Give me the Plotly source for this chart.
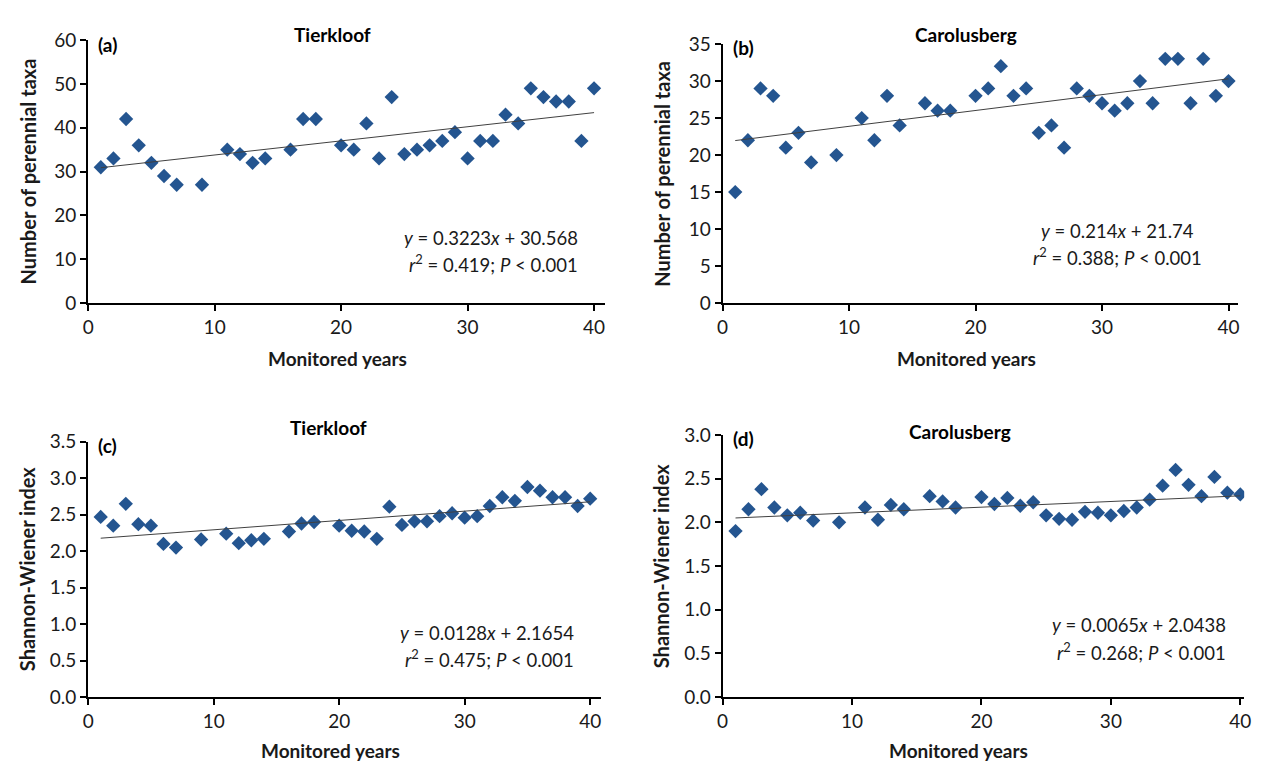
import plotly.graph_objects as go

years = [1, 2, 3, 4, 5, 6, 7, 9, 11, 12, 13, 14, 16, 17, 18, 20, 21, 22, 23, 24,
         25, 26, 27, 28, 29, 30, 31, 32, 33, 34, 35, 36, 37, 38, 39, 40]

taxa_tierkloof = [31, 33, 42, 36, 32, 29, 27, 27, 35, 34, 32, 33, 35, 42, 42, 36, 35, 41, 33, 47,
                  34, 35, 36, 37, 39, 33, 37, 37, 43, 41, 49, 47, 46, 46, 37, 49]
taxa_carolusberg = [15, 22, 29, 28, 21, 23, 19, 20, 25, 22, 28, 24, 27, 26, 26, 28, 29, 32, 28, 29,
                    23, 24, 21, 29, 28, 27, 26, 27, 30, 27, 33, 33, 27, 33, 28, 30]
shannon_tierkloof = [2.47, 2.35, 2.65, 2.37, 2.35, 2.10, 2.05, 2.16, 2.24, 2.11, 2.15, 2.17, 2.27, 2.38,
                     2.40, 2.35, 2.28, 2.27, 2.17, 2.61, 2.36, 2.41, 2.41, 2.48, 2.52, 2.46, 2.48, 2.62,
                     2.74, 2.69, 2.88, 2.83, 2.74, 2.74, 2.62, 2.72]
shannon_carolusberg = [1.90, 2.15, 2.38, 2.17, 2.08, 2.11, 2.02, 2.00, 2.17, 2.03, 2.20, 2.15, 2.30, 2.24,
                       2.17, 2.29, 2.21, 2.28, 2.19, 2.23, 2.08, 2.04, 2.03, 2.12, 2.11, 2.08, 2.13, 2.17,
                       2.26, 2.42, 2.60, 2.43, 2.30, 2.52, 2.34, 2.32]

# regression equations as printed on the chart (slope, intercept)
fits = {
    "a": (0.3223, 30.568),
    "b": (0.214, 21.74),
    "c": (0.0128, 2.1654),
    "d": (0.0065, 2.0438),
}
eq_text = {
    "a": ("<i>y</i> = 0.3223<i>x</i> + 30.568", "<i>r</i><sup>2</sup> = 0.419; <i>P</i> &lt; 0.001"),
    "b": ("<i>y</i> = 0.214<i>x</i> + 21.74", "<i>r</i><sup>2</sup> = 0.388; <i>P</i> &lt; 0.001"),
    "c": ("<i>y</i> = 0.0128<i>x</i> + 2.1654", "<i>r</i><sup>2</sup> = 0.475; <i>P</i> &lt; 0.001"),
    "d": ("<i>y</i> = 0.0065<i>x</i> + 2.0438", "<i>r</i><sup>2</sup> = 0.268; <i>P</i> &lt; 0.001"),
}
titles = {"a": "Tierkloof", "b": "Carolusberg", "c": "Tierkloof", "d": "Carolusberg"}
ytitles = {"a": "Number of perennial taxa", "b": "Number of perennial taxa",
           "c": "Shannon-Wiener index", "d": "Shannon-Wiener index"}
series = {"a": taxa_tierkloof, "b": taxa_carolusberg, "c": shannon_tierkloof, "d": shannon_carolusberg}
yticks = {
    "a": [0, 10, 20, 30, 40, 50, 60],
    "b": [0, 5, 10, 15, 20, 25, 30, 35],
    "c": [0, 0.5, 1.0, 1.5, 2.0, 2.5, 3.0, 3.5],
    "d": [0, 0.5, 1.0, 1.5, 2.0, 2.5, 3.0],
}
xticks = [0, 10, 20, 30, 40]

W, H = 1269, 773
FONT = "Lato"
MARKER = "#245590"
TXT = "#1a1a1a"

# plot-area pixel boxes: left, right, top, bottom ; and x range max
boxes = {
    "a": (83, 605, 29, 300, 40.85),
    "b": (724, 1245, 33, 300, 40.77),
    "c": (83, 601, 443, 706, 40.85),
    "d": (724, 1251, 436, 706, 40.3),
}
fmt = {"a": None, "b": None, "c": ".1f", "d": ".1f"}

fig = go.Figure()
layout = dict(width=W, height=H, margin=dict(l=0, r=0, t=0, b=0),
              paper_bgcolor="white", plot_bgcolor="white", showlegend=False,
              font=dict(family=FONT, color=TXT, size=18))
annotations = []

def px(x):
    return x / W

def py(y):
    return 1 - y / H

# annotation placement (pixels)
eq_pos = {"a": (580, 233, 259), "b": (1123, 226, 252), "c": (576, 640, 666), "d": (1235, 632, 659)}
eq_anchor = {"a": "right", "b": "center", "c": "right", "d": "right"}
title_pos = {"a": (330, 23), "b": (970, 23), "c": (326, 428), "d": (964, 432)}
ytitle_x = {"a": 22, "b": 662, "c": 22, "d": 662}
xtitle_pos = {"a": (335, 357), "b": (970, 357), "c": (328, 761), "d": (962, 761)}

for i, k in enumerate(["a", "b", "c", "d"]):
    n = "" if i == 0 else str(i + 1)
    L, R, T, B, xmax = boxes[k]
    xa = "x" + n
    ya = "y" + n
    fig.add_trace(go.Scatter(x=years, y=series[k], mode="markers", xaxis=xa, yaxis=ya,
                             marker=dict(symbol="diamond", size=11, color=MARKER)))
    s, c = fits[k]
    lx = [years[0], years[-1]]
    fig.add_trace(go.Scatter(x=lx, y=[s * v + c for v in lx], mode="lines", xaxis=xa, yaxis=ya,
                             line=dict(color="#404040", width=1)))
    ax = dict(domain=[px(L), px(R)], range=[0, xmax], tickvals=xticks, ticks="outside",
              ticklen=6, tickwidth=2, tickcolor="black", showline=True, linecolor="black",
              linewidth=2, showgrid=False, zeroline=False,
              tickfont=dict(size=19, family=FONT, color=TXT), anchor=ya)
    yv = yticks[k]
    ay = dict(domain=[py(B), py(T)], range=[0, yv[-1]], tickvals=yv, ticks="outside",
              ticklen=6, tickwidth=2, tickcolor="black", showline=True, linecolor="black",
              linewidth=2, showgrid=False, zeroline=False,
              tickfont=dict(size=19, family=FONT, color=TXT), anchor=xa)
    if fmt[k]:
        ay["tickformat"] = fmt[k]
    layout["xaxis" + n] = ax
    layout["yaxis" + n] = ay

    # panel label
    annotations.append(dict(x=px(L + 8), y=py(T + 4), xref="paper", yref="paper",
                            text="<b>(%s)</b>" % k, showarrow=False, xanchor="left", yanchor="middle",
                            font=dict(size=19, family=FONT, color="black")))
    # title
    tx, ty = title_pos[k]
    annotations.append(dict(x=px(tx), y=py(ty), xref="paper", yref="paper",
                            text="<b>%s</b>" % titles[k], showarrow=False, xanchor="center",
                            yanchor="middle", font=dict(size=19, family=FONT, color="black")))
    # axis titles
    annotations.append(dict(x=px(ytitle_x[k]), y=py((T + B) / 2), xref="paper", yref="paper",
                            text="<b>%s</b>" % ytitles[k], showarrow=False, textangle=-90,
                            xanchor="center", yanchor="middle",
                            font=dict(size=20, family=FONT, color=TXT)))
    mx, my = xtitle_pos[k]
    annotations.append(dict(x=px(mx), y=py(my), xref="paper", yref="paper",
                            text="<b>Monitored years</b>", showarrow=False, xanchor="center",
                            yanchor="middle", font=dict(size=19, family=FONT, color=TXT)))
    # equations
    ex, ey1, ey2 = eq_pos[k]
    for txt, ey in zip(eq_text[k], (ey1, ey2)):
        annotations.append(dict(x=px(ex), y=py(ey), xref="paper", yref="paper", text=txt,
                                showarrow=False, xanchor=eq_anchor[k], yanchor="middle",
                                font=dict(size=18.5, family=FONT, color=TXT)))

layout["annotations"] = annotations
fig.update_layout(**layout)
fig.write_html("out.html", config={"displayModeBar": False},
               post_script="document.body.style.margin='0px';")
